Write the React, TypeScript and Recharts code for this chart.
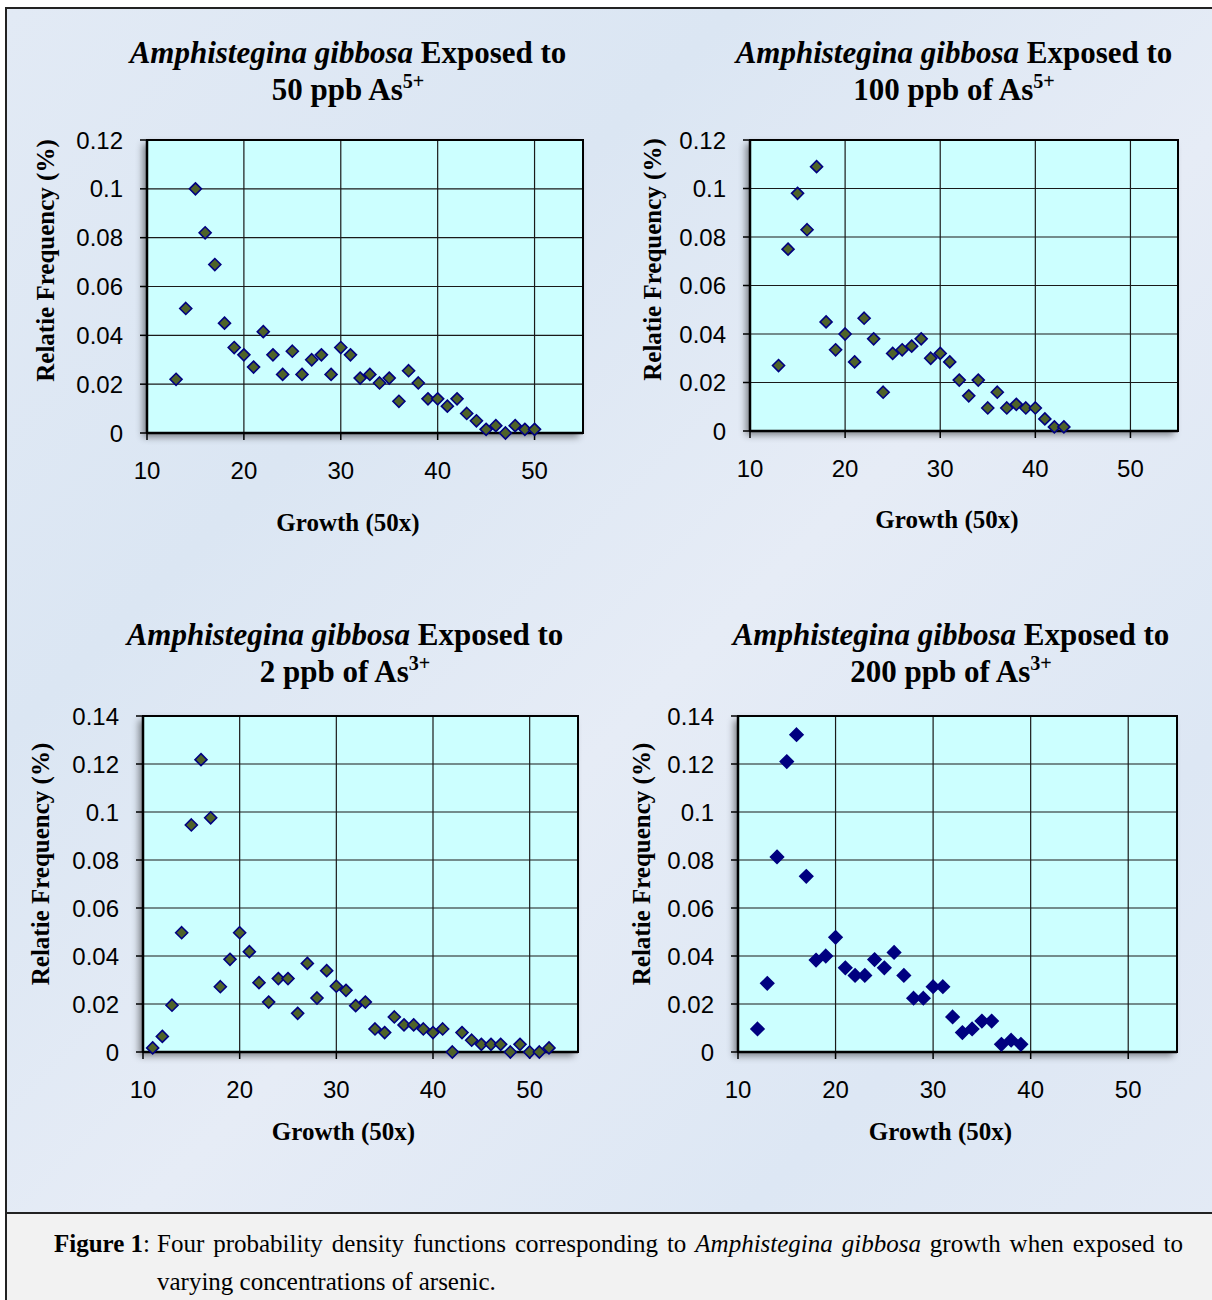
import React from "react";
import {
  ScatterChart,
  Scatter,
  XAxis,
  YAxis,
  CartesianGrid,
  ReferenceArea,
} from "recharts";

// growth (50x) classes and relative frequencies
const growth50As5 = [
  13, 14, 15, 16, 17, 18, 19, 20, 21, 22, 23, 24, 25, 26, 27, 28, 29, 30, 31,
  32, 33, 34, 35, 36, 37, 38, 39, 40, 41, 42, 43, 44, 45, 46, 47, 48, 49, 50,
];
const freq50As5 = [
  0.022, 0.051, 0.1, 0.082, 0.069, 0.045, 0.035, 0.032, 0.027, 0.0415, 0.032,
  0.024, 0.0335, 0.024, 0.03, 0.032, 0.024, 0.035, 0.032, 0.0225, 0.024,
  0.0205, 0.0225, 0.013, 0.0255, 0.0205, 0.014, 0.014, 0.011, 0.014, 0.008,
  0.005, 0.0015, 0.003, 0, 0.003, 0.0015, 0.0015,
];

const growth100As5 = [
  13, 14, 15, 16, 17, 18, 19, 20, 21, 22, 23, 24, 25, 26, 27, 28, 29, 30, 31,
  32, 33, 34, 35, 36, 37, 38, 39, 40, 41, 42, 43,
];
const freq100As5 = [
  0.027, 0.075, 0.098, 0.083, 0.109, 0.045, 0.0335, 0.04, 0.0285, 0.0465,
  0.038, 0.016, 0.032, 0.0335, 0.035, 0.038, 0.03, 0.032, 0.0285, 0.021,
  0.0145, 0.021, 0.0095, 0.016, 0.0095, 0.011, 0.0095, 0.0095, 0.005, 0.0017,
  0.0017,
];

const growth2As3 = [
  11, 12, 13, 14, 15, 16, 17, 18, 19, 20, 21, 22, 23, 24, 25, 26, 27, 28, 29,
  30, 31, 32, 33, 34, 35, 36, 37, 38, 39, 40, 41, 42, 43, 44, 45, 46, 47, 48,
  49, 50, 51, 52,
];
const freq2As3 = [
  0.0017, 0.0065, 0.0195, 0.0497, 0.0946, 0.1218, 0.0976, 0.0272, 0.0386,
  0.0497, 0.0418, 0.0289, 0.0208, 0.0306, 0.0306, 0.0161, 0.0369, 0.0225,
  0.0339, 0.0274, 0.0257, 0.0193, 0.0208, 0.0096, 0.0081, 0.0146, 0.0113,
  0.0113, 0.0096, 0.0081, 0.0096, 0, 0.0081, 0.0049, 0.0032, 0.0032, 0.0032, 0,
  0.0032, 0, 0, 0.0017,
];

const growth200As3 = [
  12, 13, 14, 15, 16, 17, 18, 19, 20, 21, 22, 23, 24, 25, 26, 27, 28, 29, 30,
  31, 32, 33, 34, 35, 36, 37, 38, 39,
];
const freq200As3 = [
  0.0096, 0.0286, 0.0813, 0.121, 0.1322, 0.0732, 0.0383, 0.04, 0.0478, 0.0351,
  0.0319, 0.0319, 0.0385, 0.0351, 0.0415, 0.0319, 0.0224, 0.0224, 0.0272,
  0.0272, 0.0146, 0.0081, 0.0096, 0.0129, 0.0129, 0.0032, 0.0049, 0.0032,
];

const xTicks = [10, 20, 30, 40, 50];
const yTicks12 = [0, 0.02, 0.04, 0.06, 0.08, 0.1, 0.12];
const yTicks14 = [0, 0.02, 0.04, 0.06, 0.08, 0.1, 0.12, 0.14];

const toPoints = (xs: number[], ys: number[]) =>
  xs.map((x, i) => ({ x, y: ys[i] }));

const SERIF = "'Liberation Serif', 'Times New Roman', serif";
const SANS = "'Liberation Sans', Arial, sans-serif";

const tickStyle = { fill: "#000", fontSize: 24, fontFamily: SANS };
const axisTitleStyle = {
  fill: "#000",
  fontSize: 25,
  fontWeight: 700,
  fontFamily: SERIF,
};

const diamond =
  (fill: string, stroke: string, r: number) => (props: any) => {
    const { cx, cy } = props;
    if (cx == null || cy == null) return null;
    return (
      <polygon
        points={`${cx},${cy - r} ${cx + r},${cy} ${cx},${cy + r} ${cx - r},${cy}`}
        fill={fill}
        stroke={stroke}
        strokeWidth={1.6}
      />
    );
  };

type PanelProps = {
  left: number;
  top: number;
  width: number;
  height: number;
  margin: { top: number; right: number; left: number; bottom: number };
  yWidth: number;
  xHeight: number;
  yMax: number;
  yTicks: number[];
  data: { x: number; y: number }[];
  fill: string;
  stroke: string;
  r: number;
  yLabelOffset: number;
  yLabelDy: number;
  xLabelOffset: number;
};

const Panel: React.FC<PanelProps> = (p) => {
  const plotLeft = p.left + p.margin.left + p.yWidth;
  const plotTop = p.top + p.margin.top;
  const plotW = p.width - p.margin.left - p.margin.right - p.yWidth;
  const plotH = p.height - p.margin.top - p.margin.bottom - p.xHeight;
  return (
    <>
      {/* soft shadow behind the plot area, like the Excel original */}
      <div
        style={{
          position: "absolute",
          left: plotLeft,
          top: plotTop,
          width: plotW,
          height: plotH,
          background: "#ccffff",
          boxShadow: "-4px 4px 7px rgba(0,0,0,0.45)",
        }}
      />
      <div style={{ position: "absolute", left: p.left, top: p.top }}>
        <ScatterChart width={p.width} height={p.height} margin={p.margin}>
          <CartesianGrid
            fill="#ccffff"
            fillOpacity={1}
            stroke="#1a1a1a"
            strokeWidth={1.2}
          />
          <XAxis
            type="number"
            dataKey="x"
            domain={[10, 55]}
            ticks={xTicks}
            interval={0}
            tick={tickStyle}
            tickSize={7}
            tickMargin={22}
            height={p.xHeight}
            axisLine={{ stroke: "#000", strokeWidth: 2.5 }}
            tickLine={{ stroke: "#000", strokeWidth: 1.5 }}
            label={{
              value: "Growth (50x)",
              position: "insideBottom",
              offset: p.xLabelOffset,
              dx: -17,
              style: axisTitleStyle,
            }}
          />
          <YAxis
            type="number"
            dataKey="y"
            domain={[0, p.yMax]}
            ticks={p.yTicks}
            interval={0}
            width={p.yWidth}
            tick={tickStyle}
            tickSize={7}
            tickMargin={17}
            axisLine={{ stroke: "#000", strokeWidth: 2.5 }}
            tickLine={{ stroke: "#000", strokeWidth: 1.5 }}
            label={{
              value: "Relatie Frequency (%)",
              angle: -90,
              position: "insideLeft",
              offset: p.yLabelOffset,
              dy: p.yLabelDy,
              style: { ...axisTitleStyle, textAnchor: "middle" },
            }}
          />
          <ReferenceArea
            x1={10}
            x2={55}
            y1={0}
            y2={p.yMax}
            fill="none"
            stroke="#000"
            strokeWidth={2}
          />
          <Scatter
            data={p.data}
            shape={diamond(p.fill, p.stroke, p.r)}
            isAnimationActive={false}
          />
        </ScatterChart>
      </div>
    </>
  );
};

const titleStyle: React.CSSProperties = {
  position: "absolute",
  width: 640,
  textAlign: "center",
  fontFamily: SERIF,
  fontWeight: 700,
  fontSize: 31,
  lineHeight: "37px",
  color: "#000",
  whiteSpace: "nowrap",
};

const Title: React.FC<{ cx: number; top: number; children: React.ReactNode }> = ({
  cx,
  top,
  children,
}) => <div style={{ ...titleStyle, left: cx - 320, top }}>{children}</div>;

const sup: React.CSSProperties = {
  fontSize: "0.65em",
  verticalAlign: "0.6em",
  lineHeight: 0,
};

const captionStyle: React.CSSProperties = {
  position: "absolute",
  fontFamily: SERIF,
  fontSize: 25,
  lineHeight: "37px",
  color: "#000",
  whiteSpace: "nowrap",
};

const OLIVE = "#4f6228";
const NAVY = "#000080";

export default function App() {
  return (
    <div
      style={{
        position: "absolute",
        left: 0,
        top: 0,
        width: 1212,
        height: 1300,
        background: "#fff",
        overflow: "hidden",
      }}
    >
      <div
        style={{
          position: "absolute",
          left: 5,
          top: 7,
          width: 1220,
          height: 1205,
          background:
            "linear-gradient(135deg, #e2eaf5 0%, #dbe6f3 30%, #e6ecf6 55%, #dde7f4 80%, #e3eaf5 100%)",
          borderLeft: "2px solid #222",
          borderTop: "2px solid #222",
        }}
      />
      <div
        style={{
          position: "absolute",
          left: 5,
          top: 1212,
          width: 1220,
          height: 92,
          background: "#f2f2f2",
          borderLeft: "2px solid #222",
          borderTop: "2px solid #222",
        }}
      />

      <Title cx={348} top={34}>
        <i>Amphistegina gibbosa</i> Exposed to
        <br />
        50 ppb As<span style={sup}>5+</span>
      </Title>
      <Title cx={954} top={34}>
        <i>Amphistegina gibbosa</i> Exposed to
        <br />
        100 ppb of As<span style={sup}>5+</span>
      </Title>
      <Title cx={345} top={616}>
        <i>Amphistegina gibbosa</i> Exposed to
        <br />
        2 ppb of As<span style={sup}>3+</span>
      </Title>
      <Title cx={951} top={616}>
        <i>Amphistegina gibbosa</i> Exposed to
        <br />
        200 ppb of As<span style={sup}>3+</span>
      </Title>

      <Panel
        left={0}
        top={0}
        width={600}
        height={560}
        margin={{ top: 140, right: 17, left: 20, bottom: 0 }}
        yWidth={127}
        xHeight={127}
        yMax={0.12}
        yTicks={yTicks12}
        data={toPoints(growth50As5, freq50As5)}
        fill={OLIVE}
        stroke={NAVY}
        r={6}
        yLabelOffset={25}
        yLabelDy={-26}
        xLabelOffset={29}
      />
      <Panel
        left={600}
        top={0}
        width={600}
        height={560}
        margin={{ top: 140, right: 22, left: 20, bottom: 0 }}
        yWidth={130}
        xHeight={129}
        yMax={0.12}
        yTicks={yTicks12}
        data={toPoints(growth100As5, freq100As5)}
        fill={OLIVE}
        stroke={NAVY}
        r={6}
        yLabelOffset={32}
        yLabelDy={-26}
        xLabelOffset={32}
      />
      <Panel
        left={0}
        top={580}
        width={600}
        height={600}
        margin={{ top: 136, right: 22, left: 20, bottom: 0 }}
        yWidth={123}
        xHeight={128}
        yMax={0.14}
        yTicks={yTicks14}
        data={toPoints(growth2As3, freq2As3)}
        fill={OLIVE}
        stroke={NAVY}
        r={6}
        yLabelOffset={20}
        yLabelDy={-20}
        xLabelOffset={40}
      />
      <Panel
        left={600}
        top={580}
        width={600}
        height={600}
        margin={{ top: 136, right: 23, left: 20, bottom: 0 }}
        yWidth={118}
        xHeight={128}
        yMax={0.14}
        yTicks={yTicks14}
        data={toPoints(growth200As3, freq200As3)}
        fill={NAVY}
        stroke={NAVY}
        r={6.5}
        yLabelOffset={21}
        yLabelDy={-20}
        xLabelOffset={40}
      />

      <div style={{ ...captionStyle, right: 1212 - 150, top: 1225, textAlign: "right" }}>
        <b>Figure 1</b>:
      </div>
      <div
        style={{
          ...captionStyle,
          left: 157,
          top: 1225,
          width: 1026,
          textAlign: "justify",
          textAlignLast: "justify",
        }}
      >
        Four probability density functions corresponding to{" "}
        <i>Amphistegina gibbosa</i> growth when exposed to
      </div>
      <div style={{ ...captionStyle, left: 157, top: 1263 }}>
        varying concentrations of arsenic.
      </div>
    </div>
  );
}
